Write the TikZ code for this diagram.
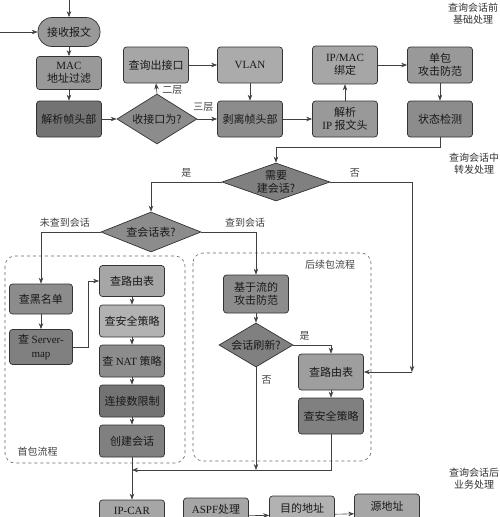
\documentclass[tikz,border=0pt]{standalone}
\usepackage{fontspec}
\setmainfont{Liberation Serif}
\newfontfamily\cjk{Noto Sans CJK SC}
\usepackage{tikz}
\usetikzlibrary{positioning,
        shapes.geometric,
        arrows.meta}
\usepackage{xcolor}
\newcommand{\boxfont}{\cjk\fontsize{11}{13.5}\selectfont}
\newcommand{\tagfont}{\cjk\fontsize{10}{12}\selectfont}

\begin{document}
\begin{tikzpicture}[x=1pt,y=-1pt,
        box/.style={draw=black!80,line width=0.7pt,rounded corners=3pt,fill=black!40,
                minimum width=65pt,minimum height=33pt,align=center,inner sep=1pt,
                font=\boxfont,text=black!90},
        cond/.style={diamond,draw=black!80,line width=0.7pt,fill=black!45,inner sep=0pt,
                font=\boxfont,text=black!90},
        arr/.style={-{Stealth[length=6pt,width=4.5pt]},draw=black!75,line width=0.6pt},
        tag/.style={font=\tagfont,text=black!75},
        side/.style={font=\tagfont,text=black!80,align=center},
        zone/.style={draw=black!60,dashed,line width=0.6pt,rounded corners=10pt}]
        \useasboundingbox (0,0) rectangle (500,517);
        \clip (0,0) rectangle (500,517);

        % flow regions
        \draw [zone] (5,256) rectangle (185,463);
        \draw [zone] (193,253) rectangle (371,461);
        \node [tag,anchor=west] (first) at (14,452) {首包流程};
        \node [tag] (later) at (330,265) {后续包流程};

        % side notes
        \node [side] (s1) at (473,14) {查询会话前\\基础处理};
        \node [side] (s2) at (474,164) {查询会话中\\转发处理};
        \node [side] (s3) at (474,479) {查询会话后\\业务处理};

        % basic processing
        \node [box,rounded corners=14pt,minimum width=62pt,minimum height=29pt] (recv) at (69,32) {接收报文};
        \node [box] (mac) at (69,73) {\textrm{MAC}\\地址过滤};
        \node [box,fill=black!55,minimum height=36pt] (frame) at (69,119) {解析帧头部};
        \node [cond,minimum width=80pt,minimum height=50pt] (port) at (157,119) {\makebox[0pt]{收接口为?}};
        \node [box,fill=black!35,minimum height=36pt] (outif) at (156,65) {查询出接口};
        \node [box,fill=black!33,minimum height=36pt] (vlan) at (250,65) {\textrm{VLAN}};
        \node [box,fill=black!45,minimum height=36pt] (strip) at (250,119) {剥离帧头部};
        \node [box,fill=black!35,minimum height=38pt] (ipmac) at (345,65) {\textrm{IP/MAC}\\绑定};
        \node [box,minimum height=36pt] (ipparse) at (345,119) {解析\\\textrm{IP} 报文头};
        \node [box,minimum height=36pt] (single) at (440,65) {单包\\攻击防范};
        \node [box,fill=black!45,minimum height=36pt] (state) at (440,119) {状态检测};

        \coordinate (in1) at (69,0);
        \coordinate (in2) at (0,32);
        \draw [arr] (in1) -- (recv);
        \draw [arr] (in2) -- (recv);
        \draw [arr] (recv) -- (mac);
        \draw [arr] (mac) -- (frame);
        \draw [arr] (frame) -- (port);
        \draw [arr] (port.north) -- (outif.south) node [tag,pos=0.35,right=2pt] (l2) {二层};
        \draw [arr] (port.east) -- (strip.west) node [tag,pos=0.3,above=4pt] (l3) {三层};
        \draw [arr] (outif) -- (vlan);
        \draw [arr] (vlan) -- (strip);
        \draw [arr] (strip) -- (ipparse);
        \draw [arr] (ipparse) -- (ipmac);
        \draw [arr] (ipmac) -- (single);
        \draw [arr] (single) -- (state);

        % session lookup
        \node [cond,fill=black!50,minimum width=108pt,minimum height=38pt] (need) at (276,182) {\makebox[0pt]{\shortstack{需要\\建会话?}}};
        \node [cond,minimum width=100pt,minimum height=40pt] (table) at (151,232) {\makebox[0pt]{查会话表?}};
        \coordinate (c1) at (412,372);

        \draw [arr] (state.south) -- ++(0,10) -| (need.north);
        \draw [arr] (need.west) -| (table.north) node [tag,pos=0.25,above=1pt] (yes1) {是};
        \draw [arr] (need.east) -| (c1) node [tag,pos=0.15,above=1pt] (no1) {否};

        % first packet
        \node [box,fill=black!45,minimum width=63pt,minimum height=30pt] (black) at (41,299) {查黑名单};
        \node [box,fill=black!50,minimum width=63pt,minimum height=35pt] (smap) at (41,347) {查 \textrm{Server-}\\\textrm{map}};
        \node [box,fill=black!35,minimum height=31pt] (route1) at (132,281) {查路由表};
        \node [box,fill=black!30,minimum height=32pt] (sec1) at (132,321) {查安全策略};
        \node [box,fill=black!45,minimum height=32pt] (nat) at (132,361) {查 \textrm{NAT} 策略};
        \node [box,fill=black!55,minimum height=32pt] (conn) at (132,401) {连接数限制};
        \node [box,fill=black!50,minimum height=32pt] (create) at (132,441) {创建会话};

        \draw [arr] (table.west) -| (black.north) node [tag,pos=0.3,above=1pt] (miss) {未查到会话};
        \draw [arr] (black) -- (smap);
        \draw [arr] (smap.east) -- ++(15,0) |- (route1.west);
        \draw [arr] (route1) -- (sec1);
        \draw [arr] (sec1) -- (nat);
        \draw [arr] (nat) -- (conn);
        \draw [arr] (conn) -- (create);

        % later packets
        \node [box,fill=black!45,minimum height=38pt] (flow) at (256,294) {基于流的\\攻击防范};
        \node [cond,fill=black!50,minimum width=74pt,minimum height=44pt] (refresh) at (256,345) {\makebox[0pt]{会话刷新?}};
        \node [box,fill=black!38,minimum height=36pt] (route2) at (331,372) {查路由表};
        \node [box,fill=black!50,minimum height=36pt] (sec2) at (331,416) {查安全策略};
        \coordinate (c2) at (256,470);
        \coordinate (c3) at (132,470);

        \draw [arr] (table.east) -| (flow.north) node [tag,pos=0.4,above=1pt] (hit) {查到会话};
        \draw [arr] (flow) -- (refresh);
        \draw [arr] (refresh.east) -| (route2.north) node [tag,pos=0.15,above=1pt] (yes2) {是};
        \draw [arr] (refresh.south) -- (c2) node [tag,pos=0.12,right=2pt] (no2) {否};
        \draw [arr] (c1) -- (route2.east);
        \draw [arr] (route2) -- (sec2);
        \draw [arr] (sec2.south) |- (c3);

        % service processing
        \node [box,fill=black!35,minimum height=36pt] (ipcar) at (132,518) {\textrm{IP-CAR}\\~};
        \node [box,fill=black!35,minimum height=36pt] (aspf) at (216,516) {\textrm{ASPF}处理\\~};
        \node [box,fill=black!30,minimum height=38pt] (dnat) at (302,515) {目的地址\\~};
        \node [box,fill=black!35,minimum height=38pt] (snat) at (387,513) {源地址\\~};

        \draw [arr] (create) -- (ipcar);
        \draw [arr] (aspf) -- (dnat);
        \draw [arr] (dnat) -- (snat);
\end{tikzpicture}
\end{document}
